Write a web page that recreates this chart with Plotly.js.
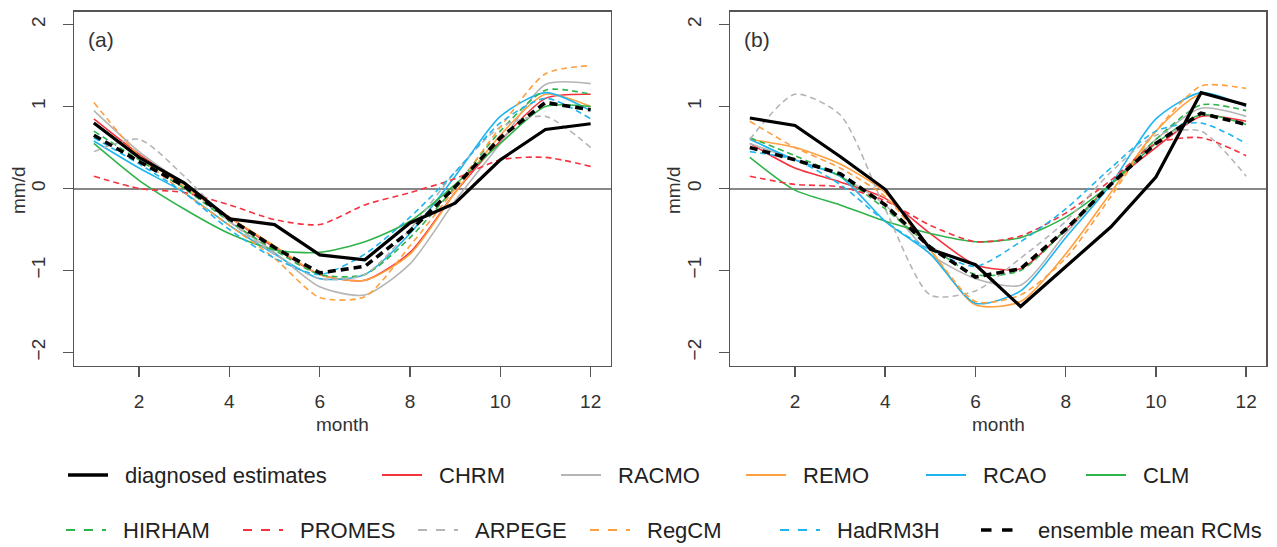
<!DOCTYPE html>
<html><head><meta charset="utf-8">
<script src="https://cdn.plot.ly/plotly-3.0.1.min.js"></script>
<style>html,body{margin:0;padding:0;background:#fff}#chart{width:1277px;height:547px}</style>
</head><body><div id="chart"></div>
<script>
// ---------------- data ----------------
const months = [1,2,3,4,5,6,7,8,9,10,11,12];
const xTickVals = [2,4,6,8,10,12];
const yTickVals = [-2,-1,0,1,2];
const panelLabels = ['(a)','(b)'];
const modelNames = ['CHRM','RACMO','REMO','RCAO','CLM','HIRHAM','PROMES','ARPEGE','RegCM','HadRM3H'];

// panel (a)
const diagA    = [0.80, 0.38, 0.07, -0.37, -0.44, -0.81, -0.87, -0.42, -0.18, 0.35, 0.72, 0.79];
const ensA     = [0.65, 0.33, 0.03, -0.37, -0.72, -1.03, -0.95, -0.52, 0.02, 0.62, 1.05, 0.96];
const chrmA    = [0.85, 0.42, 0.05, -0.35, -0.72, -1.05, -1.12, -0.78, -0.05, 0.58, 1.10, 1.15];
const racmoA   = [0.95, 0.45, 0.05, -0.40, -0.78, -1.20, -1.30, -0.92, -0.15, 0.55, 1.27, 1.28];
const remoA    = [0.80, 0.40, 0.02, -0.35, -0.70, -1.05, -1.12, -0.80, -0.05, 0.65, 1.15, 1.00];
const rcaoA    = [0.58, 0.25, -0.05, -0.45, -0.80, -1.10, -1.05, -0.55, 0.15, 0.88, 1.17, 0.95];
const clmA     = [0.55, 0.10, -0.25, -0.55, -0.75, -0.78, -0.65, -0.40, 0.05, 0.55, 1.00, 1.00];
const hirhamA  = [0.70, 0.35, 0.00, -0.40, -0.75, -1.05, -1.05, -0.60, 0.02, 0.70, 1.20, 1.15];
const promesA  = [0.15, 0.00, -0.05, -0.20, -0.38, -0.44, -0.20, -0.05, 0.12, 0.35, 0.38, 0.27];
const arpegeA  = [0.45, 0.60, 0.15, -0.40, -0.80, -1.10, -1.05, -0.50, 0.20, 0.75, 0.88, 0.50];
const regcmA   = [1.05, 0.40, -0.05, -0.45, -0.85, -1.33, -1.32, -0.70, 0.00, 0.75, 1.40, 1.50];
const hadrmA   = [0.62, 0.30, -0.05, -0.50, -0.85, -1.05, -0.80, -0.35, 0.20, 0.80, 1.10, 0.85];

// panel (b)
const diagB    = [0.86, 0.77, 0.39, -0.01, -0.74, -0.93, -1.44, -0.95, -0.47, 0.14, 1.17, 1.02];
const ensB     = [0.50, 0.35, 0.18, -0.20, -0.72, -1.08, -0.98, -0.50, 0.05, 0.55, 0.92, 0.78];
const chrmB    = [0.55, 0.25, 0.08, -0.12, -0.55, -0.93, -0.98, -0.50, 0.05, 0.50, 0.88, 0.82];
const racmoB   = [0.55, 0.35, 0.15, -0.20, -0.80, -1.10, -1.18, -0.55, 0.05, 0.60, 0.98, 0.88];
const remoB    = [0.60, 0.50, 0.30, -0.05, -0.75, -1.42, -1.38, -0.80, -0.05, 0.70, 1.15, 1.00];
const rcaoB    = [0.60, 0.35, 0.15, -0.40, -0.80, -1.40, -1.25, -0.60, 0.05, 0.85, 1.17, 1.00];
const clmB     = [0.38, -0.02, -0.20, -0.40, -0.55, -0.65, -0.60, -0.35, 0.05, 0.55, 0.90, 0.78];
const hirhamB  = [0.62, 0.40, 0.15, -0.25, -0.70, -1.05, -1.00, -0.50, 0.05, 0.60, 1.02, 0.95];
const promesB  = [0.15, 0.05, 0.02, -0.15, -0.45, -0.65, -0.58, -0.30, 0.10, 0.55, 0.62, 0.40];
const arpegeB  = [0.60, 1.15, 0.90, -0.25, -1.30, -1.25, -0.85, -0.40, 0.20, 0.65, 0.70, 0.15];
const regcmB   = [0.82, 0.50, 0.25, -0.10, -0.75, -1.38, -1.30, -0.85, -0.10, 0.70, 1.25, 1.22];
const hadrmB   = [0.45, 0.35, 0.05, -0.40, -0.75, -0.95, -0.65, -0.25, 0.25, 0.70, 0.80, 0.55];

const modelsA = [chrmA, racmoA, remoA, rcaoA, clmA, hirhamA, promesA, arpegeA, regcmA, hadrmA];
const modelsB = [chrmB, racmoB, remoB, rcaoB, clmB, hirhamB, promesB, arpegeB, regcmB, hadrmB];

// ---------------- styles ----------------
const RED='#f5333f', GRAY='#b5b5b5', ORANGE='#ffa040', BLUE='#1fb5ee', GREEN='#2fb34a';
const modelColors = [RED, GRAY, ORANGE, BLUE, GREEN, GREEN, RED, GRAY, ORANGE, BLUE];
const modelDash   = ['solid','solid','solid','solid','solid','6px,4px','6px,4px','6px,4px','6px,4px','6px,4px'];
const FONT = 'Liberation Sans, Arial, Helvetica, sans-serif';
const W = 1277, H = 547;
const px = x => x / W, py = y => 1 - y / H;

const traces = [];
function addPanel(models, diag, ens, xa, ya){
  models.forEach((vals, i) => {
    traces.push({x: months, y: vals, type:'scatter', mode:'lines', name: modelNames[i],
      xaxis: xa, yaxis: ya, showlegend:false, hoverinfo:'skip',
      line:{color: modelColors[i], width: 1.6, dash: modelDash[i], shape:'spline', smoothing:0.7}});
  });
  traces.push({x: months, y: diag, type:'scatter', mode:'lines', name:'diagnosed estimates',
    xaxis: xa, yaxis: ya, showlegend:false, line:{color:'#000', width:3.2}});
  traces.push({x: months, y: ens, type:'scatter', mode:'lines', name:'ensemble mean RCMs',
    xaxis: xa, yaxis: ya, showlegend:false, line:{color:'#000', width:3.6, dash:'8px,5px'}});
}
addPanel(modelsA, diagA, ensA, 'x', 'y');
addPanel(modelsB, diagB, ensB, 'x2', 'y2');

const yDom = [py(365.5), py(11.5)];
function xAx(dom){ return {domain: dom, range:[0.56, 12.44], tickvals: xTickVals, ticks:'outside', ticklen:10,
  tickwidth:1.5, tickcolor:'#555', showline:true, mirror:true, linecolor:'#555', linewidth:1.5,
  showgrid:false, zeroline:false, ticklabelstandoff:8,
  tickfont:{family:FONT, size:19, color:'#333'}}; }
function yAx(anchor){ return {domain: yDom, anchor: anchor, range:[-2.16, 2.16], tickvals: yTickVals, ticks:'outside', ticklen:10,
  tickwidth:1.5, tickcolor:'#555', showline:true, mirror:true, linecolor:'#555', linewidth:1.5,
  showgrid:false, zeroline:true, zerolinecolor:'#888', zerolinewidth:2, tickangle:-90, ticklabelstandoff:10,
  tickfont:{family:FONT, size:19, color:'#333'}}; }

// legend built from names & styles
const legendRows = [
  {y: 475, items: [
    {name:'diagnosed estimates', color:'#000', dash:'solid', width:3.5, x:68},
    {name:'CHRM', color:RED, dash:'solid', width:1.8, x:382},
    {name:'RACMO', color:GRAY, dash:'solid', width:1.8, x:561},
    {name:'REMO', color:ORANGE, dash:'solid', width:1.8, x:746},
    {name:'RCAO', color:BLUE, dash:'solid', width:1.8, x:926},
    {name:'CLM', color:GREEN, dash:'solid', width:1.8, x:1086}]},
  {y: 530, items: [
    {name:'HIRHAM', color:GREEN, dash:'dash', width:1.8, x:66},
    {name:'PROMES', color:RED, dash:'dash', width:1.8, x:243},
    {name:'ARPEGE', color:GRAY, dash:'dash', width:1.8, x:418},
    {name:'RegCM', color:ORANGE, dash:'dash', width:1.8, x:590},
    {name:'HadRM3H', color:BLUE, dash:'dash', width:1.8, x:780},
    {name:'ensemble mean RCMs', color:'#000', dash:'dash', width:3.5, x:981}]}
];
const shapes = [], annotations = [];
legendRows.forEach(row => row.items.forEach(it => {
  shapes.push({type:'line', xref:'paper', yref:'paper', x0:px(it.x), x1:px(it.x+40), y0:py(row.y), y1:py(row.y),
    line:{color:it.color, width:it.width, dash:it.dash}});
  annotations.push({text: it.name, xref:'paper', yref:'paper', x:px(it.x+55), y:py(row.y), xanchor:'left', yanchor:'middle',
    showarrow:false, font:{family:FONT, size:22, color:'#222'}});
}));
// panel labels and axis titles
[[74,'(a)'],[730,'(b)']].forEach(([bx], i) => {
  annotations.push({text: panelLabels[i], xref:'paper', yref:'paper', x:px(bx+12), y:py(39), xanchor:'left', yanchor:'middle',
    showarrow:false, font:{family:FONT, size:21, color:'#333'}});
});
[[18, 342],[673, 998]].forEach(([yx, mx]) => {
  annotations.push({text:'mm/d', xref:'paper', yref:'paper', x:px(yx), y:py(190), xanchor:'center', yanchor:'middle',
    textangle:-90, showarrow:false, font:{family:FONT, size:19, color:'#333'}});
  annotations.push({text:'month', xref:'paper', yref:'paper', x:px(mx), y:py(424), xanchor:'center', yanchor:'middle',
    showarrow:false, font:{family:FONT, size:19, color:'#333'}});
});

const layout = {
  width: W, height: H, margin:{l:0, r:0, t:0, b:0}, paper_bgcolor:'#fff', plot_bgcolor:'#fff',
  showlegend:false, font:{family:FONT},
  xaxis: Object.assign(xAx([px(74), px(610.5)]), {anchor:'y'}),
  yaxis: yAx('x'),
  xaxis2: Object.assign(xAx([px(730), px(1266)]), {anchor:'y2'}),
  yaxis2: yAx('x2'),
  shapes, annotations
};
Plotly.newPlot('chart', traces, layout, {displayModeBar:false, staticPlot:true});
</script>
</body></html>
